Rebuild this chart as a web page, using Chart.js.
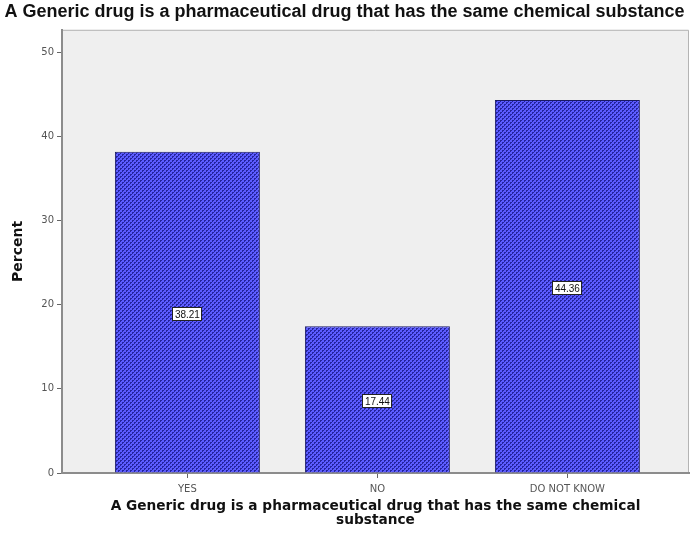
<!DOCTYPE html>
<html lang="en">
  <head>
    <meta charset="UTF-8" />
    <title>Generic drug knowledge</title>
    <script src="https://cdn.jsdelivr.net/npm/chart.js@4/dist/chart.umd.min.js"></script>
    <style>
      html, body { margin: 0; padding: 0; background: #fff; }
      #wrap { width: 693px; height: 542px; }
    </style>
  </head>
  <body>
    <div id="wrap"><canvas id="bars"></canvas></div>
    <script>
      const categories = ["YES", "NO", "DO NOT KNOW"];
      const percents = [38.21, 17.44, 44.36];
      const yTicks = [0, 10, 20, 30, 40, 50];
      const chartTitle = "A Generic drug is a pharmaceutical drug that has the same chemical substance";
      const xTitle = ["A Generic drug is a pharmaceutical drug that has the same chemical", "substance"];

      // small blue/navy checker tile for the bar fill
      function makePattern() {
        const c = document.createElement("canvas");
        c.width = 4; c.height = 4;
        const g = c.getContext("2d");
        g.fillStyle = "#5c5cff";
        g.fillRect(0, 0, 4, 4);
        g.fillStyle = "#24249e";
        g.fillRect(0, 0, 2, 1);
        g.fillRect(0, 1, 1, 1);
        g.fillRect(2, 2, 2, 1);
        g.fillRect(2, 3, 1, 1);
        return g.createPattern(c, "repeat");
      }

      // grey plot background and thin frame
      const plotBg = {
        id: "plotBg",
        beforeDraw(chart) {
          const { ctx, chartArea: a } = chart;
          ctx.save();
          ctx.fillStyle = "#efefef";
          ctx.fillRect(a.left, a.top, a.right - a.left, a.bottom - a.top);
          ctx.strokeStyle = "#b4b4b4";
          ctx.lineWidth = 1;
          ctx.beginPath();
          ctx.moveTo(a.left, a.top + 0.5);
          ctx.lineTo(a.right - 0.5, a.top + 0.5);
          ctx.lineTo(a.right - 0.5, a.bottom);
          ctx.stroke();
          ctx.restore();
        }
      };

      // value boxes in the middle of each bar
      const valueBoxes = {
        id: "valueBoxes",
        afterDatasetsDraw(chart) {
          const ctx = chart.ctx;
          const meta = chart.getDatasetMeta(0);
          ctx.save();
          ctx.font = "10px 'Liberation Sans', Arial, sans-serif";
          ctx.textAlign = "center";
          ctx.textBaseline = "middle";
          meta.data.forEach((bar, i) => {
            const txt = percents[i].toFixed(2);
            const w = ctx.measureText(txt).width + 5;
            const h = 14;
            const cx = bar.x;
            const cy = (bar.y + bar.base) / 2 + 2;
            ctx.fillStyle = "#ffffff";
            ctx.fillRect(Math.round(cx - w / 2), Math.round(cy - h / 2), Math.round(w), h);
            ctx.strokeStyle = "#222";
            ctx.lineWidth = 1;
            ctx.strokeRect(Math.round(cx - w / 2) + 0.5, Math.round(cy - h / 2) + 0.5, Math.round(w) - 1, h - 1);
            ctx.fillStyle = "#111";
            ctx.fillText(txt, cx, cy + 1);
          });
          ctx.restore();
        }
      };

      new Chart(document.getElementById("bars"), {
        type: "bar",
        data: {
          datasets: [
            {
              data: percents.map((v, i) => ({ x: i, y: v })),
              backgroundColor: makePattern(),
              borderColor: "#1a1a66",
              borderWidth: 1,
              barPercentage: 0.763,
              categoryPercentage: 1
            }
          ]
        },
        plugins: [plotBg, valueBoxes],
        options: {
          responsive: true,
          maintainAspectRatio: false,
          animation: false,
          layout: { padding: { left: 0, right: 4, top: 0, bottom: 0 } },
          plugins: {
            legend: { display: false },
            tooltip: { enabled: false },
            title: {
              display: true,
              text: chartTitle,
              color: "#111",
              font: { family: "'Liberation Sans', Arial, sans-serif", size: 18, weight: "bold", lineHeight: 1.1 },
              padding: { top: 2, bottom: 8 }
            }
          },
          scales: {
            x: {
              type: "linear",
              offset: false,
              min: -0.66,
              max: 2.64,
              afterBuildTicks(scale) {
                scale.ticks = categories.map((c, i) => ({ value: i }));
              },
              afterFit(scale) { scale.height = 69; },
              border: { color: "#8c8c8c", width: 2 },
              grid: { offset: false, drawOnChartArea: false, drawTicks: true, tickLength: 5, color: "#666" },
              ticks: {
                autoSkip: false,
                maxRotation: 0,
                padding: 5,
                color: "#555",
                font: { family: "'DejaVu Sans', Verdana, sans-serif", size: 10 },
                callback: (v) => categories[v]
              },
              title: {
                display: true,
                text: xTitle,
                color: "#111",
                font: { family: "'DejaVu Sans', Verdana, sans-serif", size: 13.7, weight: "bold", lineHeight: 1.0 },
                padding: { top: 0, bottom: 15 }
              }
            },
            y: {
              min: 0,
              max: 52.7,
              afterBuildTicks(scale) {
                scale.ticks = yTicks.map((v) => ({ value: v }));
              },
              afterFit(scale) { scale.width = 62; },
              border: { color: "#8c8c8c", width: 2 },
              grid: { drawOnChartArea: false, drawTicks: true, tickLength: 5, color: "#666" },
              ticks: {
                padding: 3,
                color: "#555",
                font: { family: "'DejaVu Sans', Verdana, sans-serif", size: 10 }
              },
              title: {
                display: true,
                text: "Percent",
                color: "#111",
                font: { family: "'DejaVu Sans', Verdana, sans-serif", size: 14, weight: "bold" },
                padding: { top: 10, bottom: 0 }
              }
            }
          }
        }
      });
    </script>
  </body>
</html>
